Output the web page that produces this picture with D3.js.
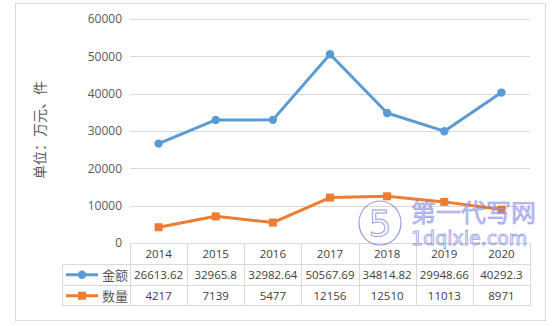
<!DOCTYPE html>
<html>
<head>
<meta charset="utf-8">
<script src="https://cdn.jsdelivr.net/npm/d3@7"></script>
<style>
  body { margin: 0; background: #fff; }
  svg text { font-family: "Open Sans", "Noto Sans CJK SC", sans-serif; }
</style>
</head>
<body>
<svg id="chart" width="559" height="326"></svg>
<script>
const years = ['2014', '2015', '2016', '2017', '2018', '2019', '2020'];
const amount = [26613.62, 32965.8, 32982.64, 50567.69, 34814.82, 29948.66, 40292.3];
const count = [4217, 7139, 5477, 12156, 12510, 11013, 8971];
const amountLabels = ['26613.62', '32965.8', '32982.64', '50567.69', '34814.82', '29948.66', '40292.3'];
const countLabels = ['4217', '7139', '5477', '12156', '12510', '11013', '8971'];
const yTicks = [0, 10000, 20000, 30000, 40000, 50000, 60000];

const blue = '#5B9BD5';
const orange = '#ED7D31';

const svg = d3.select('#chart');

// outer chart frame
svg.append('rect')
  .attr('x', 15.5).attr('y', 3.5)
  .attr('width', 530).attr('height', 317)
  .attr('fill', '#fff')
  .attr('stroke', '#d9d9d9');

const plotLeft = 130, plotRight = 530, plotTop = 19, plotBottom = 243;

const x = d3.scaleBand().domain(years).range([plotLeft, plotRight]);
const y = d3.scaleLinear().domain([0, 60000]).range([plotBottom, plotTop]);

// gridlines
svg.append('g')
  .selectAll('line')
  .data(yTicks.filter(d => d > 0))
  .enter()
  .append('line')
  .attr('x1', plotLeft).attr('x2', plotRight)
  .attr('y1', d => Math.round(y(d)) + 0.5)
  .attr('y2', d => Math.round(y(d)) + 0.5)
  .attr('stroke', '#d9d9d9');

// y axis labels
const yAxis = svg.append('g')
  .attr('transform', `translate(${plotLeft}, 0)`)
  .call(d3.axisLeft(y).tickValues(yTicks).tickFormat(d3.format('d')).tickSize(0).tickPadding(8));
yAxis.select('.domain').remove();
yAxis.selectAll('text')
  .attr('fill', '#595959')
  .style('font-size', '12px')
  .style('font-family', '"Open Sans", sans-serif');

// axis title
svg.append('text')
  .attr('transform', 'translate(45, 130) rotate(-90)')
  .attr('text-anchor', 'middle')
  .attr('fill', '#595959')
  .style('font-family', '"Noto Sans CJK SC", sans-serif')
  .style('font-size', '14px')
  .text('单位：万元、件');

// data table
const rowTop = [243, 264, 285];
const rowH = 20.5;
const tableLeft = 62;
const tbl = svg.append('g');

// horizontal lines
tbl.append('line')
  .attr('x1', plotLeft).attr('x2', plotRight)
  .attr('y1', 243.5).attr('y2', 243.5)
  .attr('stroke', '#d9d9d9');
[264.5, 285.5, 305.5].forEach(yy => {
  tbl.append('line')
    .attr('x1', tableLeft).attr('x2', plotRight)
    .attr('y1', yy).attr('y2', yy)
    .attr('stroke', '#d9d9d9');
});
// vertical lines
tbl.selectAll('line.v')
  .data(years)
  .enter()
  .append('line')
  .attr('class', 'v')
  .attr('x1', d => Math.round(x(d)) + 0.5)
  .attr('x2', d => Math.round(x(d)) + 0.5)
  .attr('y1', 243).attr('y2', 305.5)
  .attr('stroke', '#d9d9d9');
tbl.append('line')
  .attr('x1', plotRight + 0.5).attr('x2', plotRight + 0.5)
  .attr('y1', 243).attr('y2', 305.5)
  .attr('stroke', '#d9d9d9');
tbl.append('line')
  .attr('x1', tableLeft + 0.5).attr('x2', tableLeft + 0.5)
  .attr('y1', 264).attr('y2', 305.5)
  .attr('stroke', '#d9d9d9');

const cellText = (vals, row) => {
  tbl.append('g')
    .selectAll('text')
    .data(vals)
    .enter()
    .append('text')
    .attr('x', (d, i) => x(years[i]) + x.bandwidth() / 2)
    .attr('y', rowTop[row] + rowH / 2 + 4.5)
    .attr('text-anchor', 'middle')
    .attr('fill', '#404040')
    .style('font-size', '11.5px')
    .text(d => d);
};
cellText(years, 0);
cellText(amountLabels, 1);
cellText(countLabels, 2);

// legend keys in table
const keys = [
  { name: '金额', color: blue, shape: 'circle', row: 1 },
  { name: '数量', color: orange, shape: 'square', row: 2 }
];
keys.forEach(k => {
  const cy = rowTop[k.row] + rowH / 2 + 0.5;
  tbl.append('line')
    .attr('x1', 66).attr('x2', 98)
    .attr('y1', cy).attr('y2', cy)
    .attr('stroke', k.color).attr('stroke-width', 3);
  if (k.shape === 'circle') {
    tbl.append('circle').attr('cx', 82).attr('cy', cy).attr('r', 4.2).attr('fill', k.color);
  } else {
    tbl.append('rect').attr('x', 78).attr('y', cy - 4).attr('width', 8).attr('height', 8).attr('fill', k.color);
  }
  tbl.append('text')
    .attr('x', 102).attr('y', cy + 5)
    .attr('fill', '#595959')
    .style('font-family', '"Noto Sans CJK SC", sans-serif')
    .style('font-size', '13px')
    .text(k.name);
});

// lines
const cx = (d, i) => x(years[i]) + x.bandwidth() / 2;
const line = d3.line().x(cx).y(d => y(d));

svg.append('path')
  .datum(count)
  .attr('d', line)
  .attr('fill', 'none')
  .attr('stroke', orange)
  .attr('stroke-width', 3)
  .attr('stroke-linejoin', 'round');
svg.append('g')
  .selectAll('rect')
  .data(count)
  .enter()
  .append('rect')
  .attr('x', (d, i) => cx(d, i) - 4)
  .attr('y', d => y(d) - 4)
  .attr('width', 8).attr('height', 8)
  .attr('fill', orange);

svg.append('path')
  .datum(amount)
  .attr('d', line)
  .attr('fill', 'none')
  .attr('stroke', blue)
  .attr('stroke-width', 3)
  .attr('stroke-linejoin', 'round');
svg.append('g')
  .selectAll('circle')
  .data(amount)
  .enter()
  .append('circle')
  .attr('cx', cx)
  .attr('cy', d => y(d))
  .attr('r', 4.2)
  .attr('fill', blue);

// watermark
const wm = svg.append('g').attr('opacity', 0.7);
wm.append('ellipse')
  .attr('cx', 380).attr('cy', 223).attr('rx', 21).attr('ry', 22)
  .attr('fill', 'none').attr('stroke', '#6f73d8').attr('stroke-width', 1.2);
wm.append('text')
  .attr('x', 380).attr('y', 236)
  .attr('text-anchor', 'middle')
  .attr('fill', 'none').attr('stroke', '#6f73d8').attr('stroke-width', 1)
  .style('font-size', '36px')
  .style('font-family', '"DejaVu Sans", sans-serif')
  .text('5');
wm.append('text')
  .attr('x', 411).attr('y', 222)
  .attr('fill', '#a9abf0').attr('stroke', '#6f73d8').attr('stroke-width', 0.6)
  .style('font-family', '"Noto Sans CJK SC", sans-serif')
  .style('font-size', '25px')
  .text('第一代写网');
wm.append('text')
  .attr('x', 411).attr('y', 245)
  .attr('fill', 'none').attr('stroke', '#7b7fe0').attr('stroke-width', 0.9)
  .style('font-family', '"DejaVu Sans", sans-serif')
  .style('font-size', '19px')
  .text('1dqixie.com');
</script>
</body>
</html>
